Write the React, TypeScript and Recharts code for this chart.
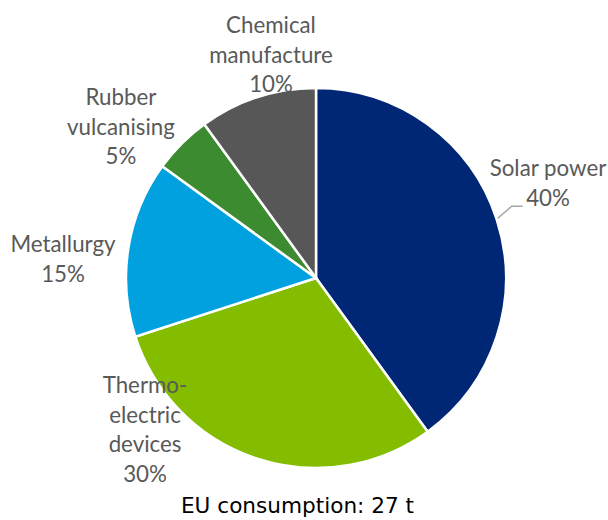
import React from "react";
import { PieChart, Pie, Cell } from "recharts";

const categories = [
  "Solar power",
  "Thermo-electric devices",
  "Metallurgy",
  "Rubber vulcanising",
  "Chemical manufacture",
];
const shares = [40, 30, 15, 5, 10];
const labelLines = [
  ["Solar power"],
  ["Thermo-", "electric", "devices"],
  ["Metallurgy"],
  ["Rubber", "vulcanising"],
  ["Chemical", "manufacture"],
];
const colors = ["#002776", "#84BC00", "#00A1DE", "#3D8B30", "#575757"];
const titleText = "EU consumption: 27 t";

// label block placement relative to pie centre: [dx of block centre, dy of first baseline]
const labelLayout: [number, number][] = [
  [232, -102],
  [-171, 115],
  [-253, -26],
  [-195, -173],
  [-45, -245],
];

const data = categories.map((name, i) => ({ name, value: shares[i], idx: i }));

const W = 608;
const H = 520;
const CX = 316;
const CY = 278;
const R = 190;
const LINE_H = 29.5;
const LABEL_FONT = "Lato, 'Open Sans', sans-serif";

const renderLabel = (props: any) => {
  const { cx, cy, midAngle, outerRadius, index } = props;
  const i = index;
  const [dx, dy] = labelLayout[i];
  const lines = [...labelLines[i], `${shares[i]}%`];
  const x = cx + dx;
  const y0 = cy + dy;
  const rad = (Math.PI / 180) * midAngle;
  const ex = cx + outerRadius * Math.cos(rad);
  const ey = cy - outerRadius * Math.sin(rad);
  return (
    <g key={`lbl-${i}`}>
      {i === 0 && (
        <polyline
          points={`${ex + 1},${ey - 1} ${ex + 15},${ey - 13} ${ex + 26},${ey - 13}`}
          fill="none"
          stroke="#A6A6A6"
          strokeWidth={1.5}
        />
      )}
      <text
        x={x}
        y={y0}
        textAnchor="middle"
        fill="#595959"
        fontFamily={LABEL_FONT}
        fontSize={22.3}
      >
        {lines.map((t, k) => (
          <tspan key={k} x={x} y={y0 + k * LINE_H}>
            {t}
          </tspan>
        ))}
      </text>
    </g>
  );
};

export default function App() {
  return (
    <div style={{ position: "absolute", left: 0, top: 0, width: W, height: H, background: "#fff" }}>
      <PieChart width={W} height={H} margin={{ top: 0, right: 0, bottom: 0, left: 0 }}>
        <Pie
          data={data}
          dataKey="value"
          nameKey="name"
          cx={CX}
          cy={CY}
          outerRadius={R}
          startAngle={90}
          endAngle={-270}
          stroke="#FFFFFF"
          strokeWidth={2.5}
          label={renderLabel}
          labelLine={false}
          isAnimationActive={false}
        >
          {data.map((d, i) => (
            <Cell key={d.name} fill={colors[i]} />
          ))}
        </Pie>
      </PieChart>
      <svg
        width={W}
        height={H}
        style={{ position: "absolute", left: 0, top: 0, pointerEvents: "none" }}
      >
        <text
          x={297.5}
          y={513}
          textAnchor="middle"
          fill="#000"
          fontFamily="'DejaVu Sans', Verdana, sans-serif"
          fontSize={21.6}
        >
          {titleText}
        </text>
      </svg>
    </div>
  );
}
